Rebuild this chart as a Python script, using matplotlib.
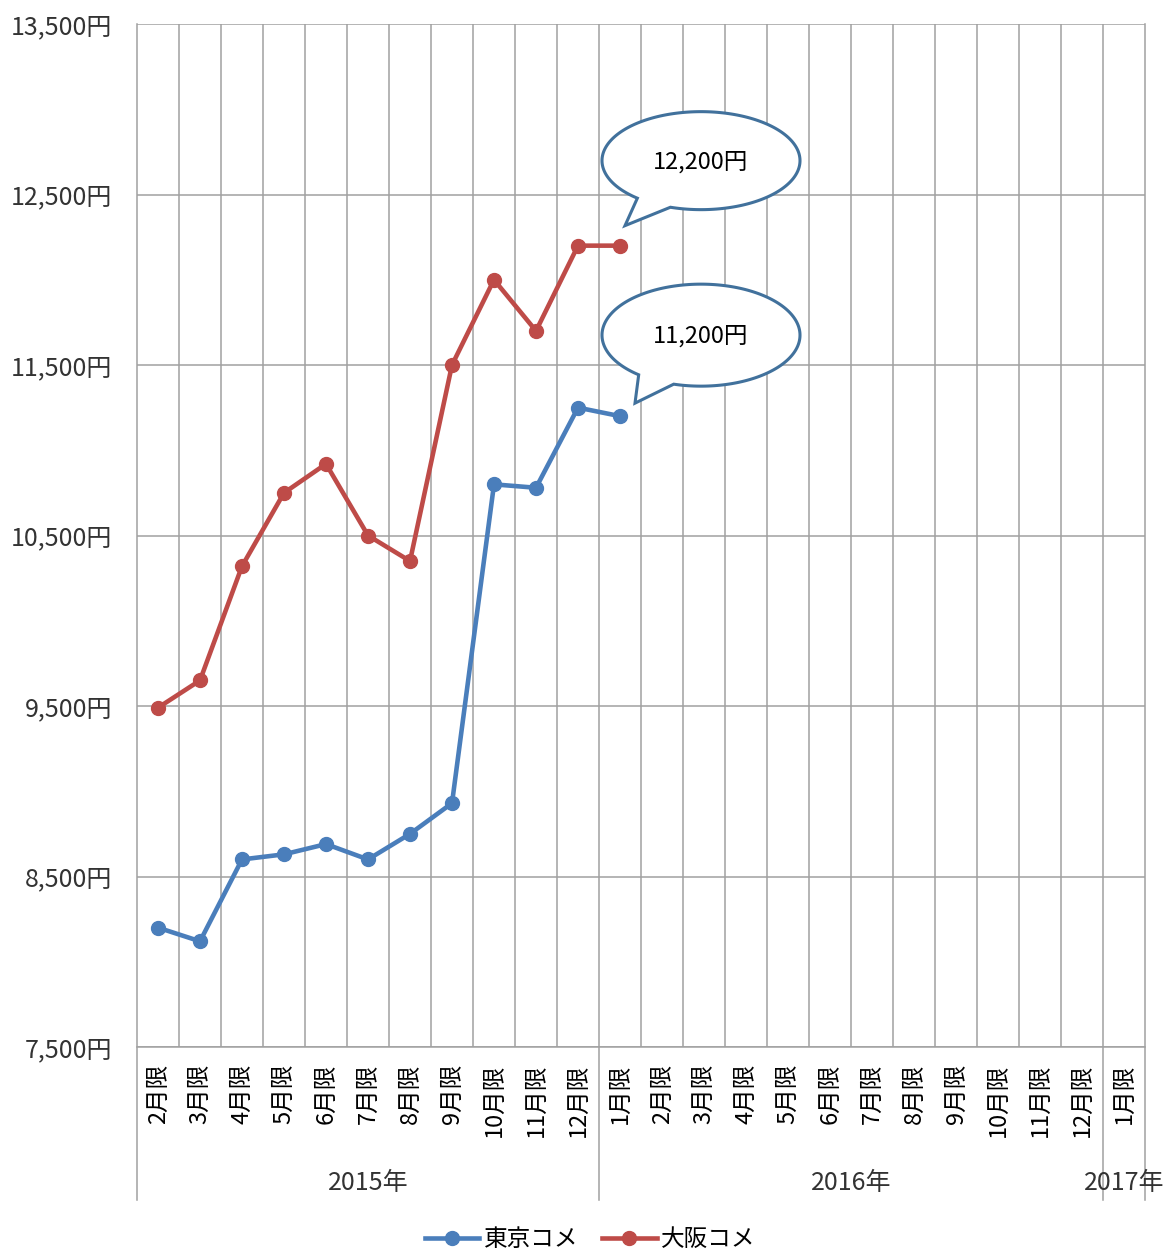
import numpy as np
import matplotlib
matplotlib.use('Agg')
import matplotlib.pyplot as plt
from matplotlib.path import Path
from matplotlib.patches import PathPatch
from matplotlib.transforms import blended_transform_factory


plt.rcParams['font.family'] = ['Noto Sans CJK JP', 'DejaVu Sans']

# data
months = ['2月限', '3月限', '4月限', '5月限', '6月限', '7月限', '8月限', '9月限', '10月限', '11月限', '12月限',
          '1月限', '2月限', '3月限', '4月限', '5月限', '6月限', '7月限', '8月限', '9月限', '10月限', '11月限', '12月限',
          '1月限']
years = ['2015年', '2016年', '2017年']
year_counts = [11, 12, 1]

tokyo = [8200, 8120, 8600, 8630, 8690, 8600, 8750, 8930, 10800, 10780, 11250, 11200]
osaka = [9490, 9650, 10320, 10750, 10920, 10500, 10350, 11500, 12000, 11700, 12200, 12200]
series_names = ['東京コメ', '大阪コメ']

y_ticks = [7500, 8500, 9500, 10500, 11500, 12500, 13500]

BLUE = '#4a7ebb'
RED = '#be4b48'
GRID = '#a0a0a0'
CALLOUT = '#41719c'

W, H = 1167, 1250
DPI = 100


def callout(fig, ax, x, y, label, center_off, tip_off, semi, gap):
    # balloon built in pixel offsets (image coords, y down) from the data point
    px, py = ax.transData.transform((x, y))
    cx, cy = center_off
    a, b = semi
    t = np.radians(np.linspace(gap[1], gap[0] + 360, 200))
    xs = cx + a * np.cos(t)
    ys = cy + b * np.sin(t)
    verts = list(zip(xs, ys)) + [tip_off, (xs[0], ys[0])]
    verts = [(px + vx, py - vy) for vx, vy in verts]
    codes = [Path.MOVETO] + [Path.LINETO] * (len(verts) - 2) + [Path.CLOSEPOLY]
    patch = PathPatch(Path(verts, codes), facecolor='white', edgecolor=CALLOUT,
                      linewidth=2.2, transform=None, zorder=5)
    fig.patches.append(patch)
    fig.text((px + cx) / W, (py - cy - 1) / H, label, ha='center', va='center',
             fontsize=17, color='black', zorder=6)


fig = plt.figure(figsize=(W / DPI, H / DPI), dpi=DPI)
ax = fig.add_axes([137 / W, (H - 1047) / H, (1145 - 137) / W, (1047 - 24) / H])

x = np.arange(len(months))
ax.plot(x[:len(tokyo)], tokyo, color=BLUE, linewidth=3.3, marker='o', markersize=10,
        label=series_names[0], zorder=4)
ax.plot(x[:len(osaka)], osaka, color=RED, linewidth=3.3, marker='o', markersize=10,
        label=series_names[1], zorder=4)

ax.set_xlim(-0.5, len(months) - 0.5)
ax.set_ylim(y_ticks[0], y_ticks[-1])
ax.set_yticks(y_ticks)
ax.set_yticklabels([f'{v:,}円' for v in y_ticks], fontsize=18, color='#333333')
ax.set_xticks(x)
ax.set_xticklabels(months, rotation=90, fontsize=17, va='top', color='black')
ax.tick_params(axis='both', length=0)
ax.tick_params(axis='x', pad=12)
ax.tick_params(axis='y', pad=18)

ax.set_xticks(x[:-1] + 0.5, minor=True)
ax.grid(True, which='major', axis='y', color=GRID, linewidth=1.1)
ax.grid(True, which='minor', axis='x', color=GRID, linewidth=1.1)
ax.tick_params(which='minor', length=0)
ax.set_axisbelow(True)
for side in ['top', 'right', 'left']:
    ax.spines[side].set_visible(False)
ax.spines['bottom'].set_color(GRID)
ax.spines['bottom'].set_linewidth(1.1)

# year grouping under the month labels
trans = blended_transform_factory(ax.transData, ax.transAxes)
depth = -(1200 - 1047) / (1047 - 24)
edges = np.concatenate([[0], np.cumsum(year_counts)]) - 0.5
for e in edges:
    ax.plot([e, e], [1 if e in (edges[0], edges[-1]) else 0, depth], transform=trans,
            color=GRID, linewidth=1.1, clip_on=False)
for i, yr in enumerate(years):
    ax.text((edges[i] + edges[i + 1]) / 2, -(1183 - 1047) / (1047 - 24), yr, transform=trans,
            ha='center', va='center', fontsize=18, color='#333333')

callout(fig, ax, len(osaka) - 1, osaka[-1], f'{osaka[-1]:,}円', (81, -85), (5, -20), (99, 49), (108, 130))
callout(fig, ax, len(tokyo) - 1, tokyo[-1], f'{tokyo[-1]:,}円', (81, -81), (15, -13), (99, 51), (106, 129))

fig.legend(loc='lower center', bbox_to_anchor=(0.506, -0.018), ncol=2, frameon=False, fontsize=17,
           handlelength=2.3, columnspacing=1.0, handletextpad=0.2)

fig.savefig('out.png', dpi=DPI)
plt.close(fig)
